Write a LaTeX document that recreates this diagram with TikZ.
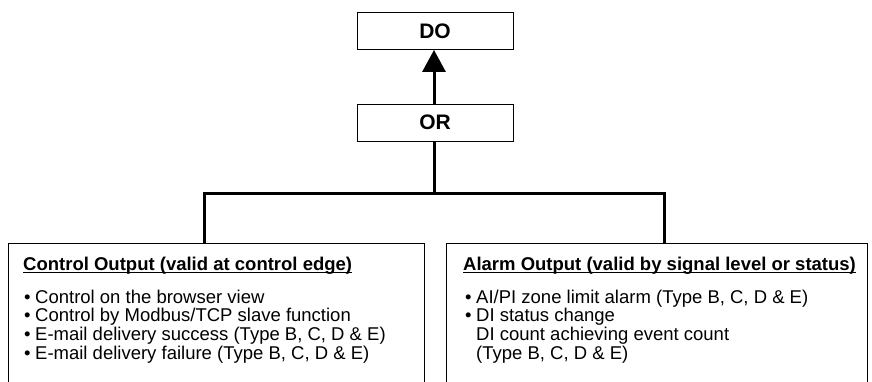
\documentclass[tikz,border=0pt]{standalone}
\usepackage{fontspec}
\setmainfont{Liberation Sans}
\usetikzlibrary{arrows.meta, positioning}

\begin{document}
\begin{tikzpicture}[x=1pt, y=-1pt,
    every node/.style={font=\fontsize{18.5}{20}\selectfont},
    gate/.style={rectangle, draw, line width=0.9pt, minimum width=156pt,
                 minimum height=37pt, inner sep=0pt,
                 font=\fontsize{21}{22}\selectfont\bfseries},
    panel/.style={rectangle, inner sep=0pt, anchor=north west,
                  minimum height=140pt},
    line/.style={anchor=base west, inner sep=0pt},
    link/.style={line width=3pt},
]
\useasboundingbox (0,0) rectangle (872,381);

\node[gate] (do) at (435,31) {DO};
\node[gate] (or) at (435,122.5) {OR};

\node[panel, minimum width=416pt] (ctrl) at (8,243) {};
\node[panel, minimum width=421pt] (alarm) at (446,243) {};

\draw[line width=0.9pt] (ctrl.south west) -- (ctrl.north west)
    -- (ctrl.north east) -- (ctrl.south east);
\draw[line width=0.9pt] (alarm.south west) -- (alarm.north west)
    -- (alarm.north east) -- (alarm.south east);

\coordinate (jm) at (434,193);
\coordinate (jl) at (204,193);
\coordinate (jr) at (664,193);

\draw[link, -{Triangle[length=22pt, width=23pt]}] (or.north -| jm) -- (do.south -| jm);
\draw[link] (or.south -| jm) -- (jm);
\draw[link] (ctrl.north -| jl) -- (jl) -- (jr) -- (alarm.north -| jr);

\node[line, font=\fontsize{18.5}{20}\selectfont\bfseries] (ctrlhead) at (23,270)
    {Control Output (valid at control edge)};
\draw[line width=0.9pt] ([yshift=-2.5pt]ctrlhead.base west) -- ([yshift=-2.5pt]ctrlhead.base east);
\node[line] (c1) at (24,303) {\makebox[11pt][l]{\textbullet}Control on the browser view};
\node[line] (c2) at (24,321.7) {\makebox[11pt][l]{\textbullet}Control by Modbus/TCP slave function};
\node[line] (c3) at (24,340.4) {\makebox[11pt][l]{\textbullet}E-mail delivery success (Type B, C, D \& E)};
\node[line] (c4) at (24,359) {\makebox[11pt][l]{\textbullet}E-mail delivery failure (Type B, C, D \& E)};

\node[line, font=\fontsize{18.5}{20}\selectfont\bfseries] (alarmhead) at (463,270)
    {Alarm Output (valid by signal level or status)};
\draw[line width=0.9pt] ([yshift=-2.5pt]alarmhead.base west) -- ([yshift=-2.5pt]alarmhead.base east);
\node[line] (a1) at (465,303) {\makebox[11pt][l]{\textbullet}AI/PI zone limit alarm (Type B, C, D \& E)};
\node[line] (a2) at (465,321.7) {\makebox[11pt][l]{\textbullet}DI status change};
\node[line] (a3) at (476,340.4) {DI count achieving event count};
\node[line] (a4) at (476,359) {(Type B, C, D \& E)};
\end{tikzpicture}
\end{document}
